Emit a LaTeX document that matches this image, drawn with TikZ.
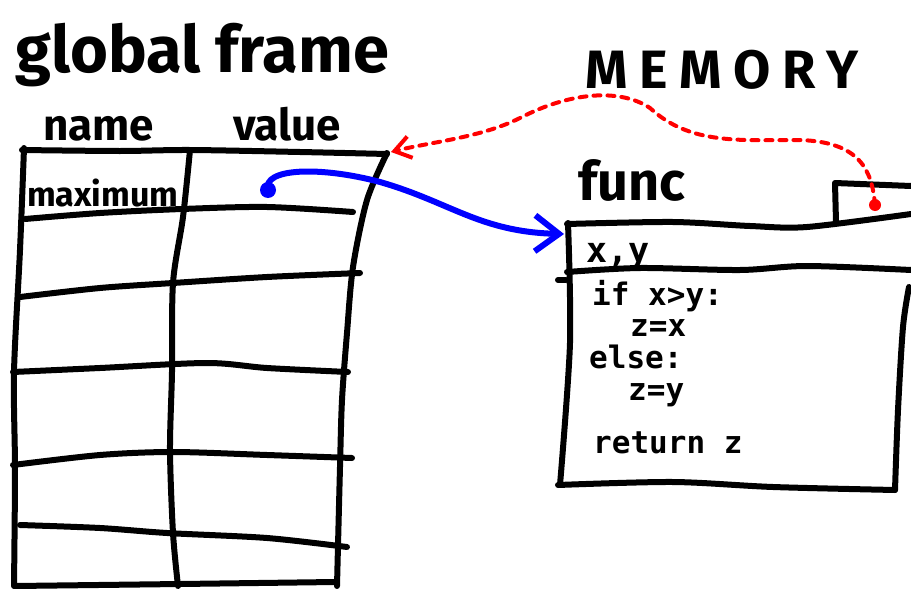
\documentclass[tikz,border=0pt]{standalone}
\usepackage{fontspec}
\setmainfont{Fira Sans}
\newfontfamily\memfont[LetterSpace=22]{Fira Sans}
\setmonofont{DejaVu Sans Mono}
\usetikzlibrary{arrows.meta}
\begin{document}
\begin{tikzpicture}[x=1pt, y=-1pt,
  pen/.style={line width=6pt, line cap=round, line join=round},
  hand/.style={inner sep=0pt, anchor=base west},
  code/.style={hand, font=\fontsize{31}{31}\selectfont\ttfamily\bfseries}]
  \useasboundingbox (0,0) rectangle (911,589);
  % titles
  \node[hand, font=\fontsize{65}{65}\selectfont\bfseries] (gframe) at (15,72) {global frame};
  \node[hand, font=\fontsize{44}{44}\selectfont\bfseries] (namecol) at (43,140) {name};
  \node[hand, font=\fontsize{44}{44}\selectfont\bfseries] (valcol) at (233,140) {value};
  \node[hand, font=\fontsize{54}{54}\selectfont\memfont\bfseries] (memory) at (585,88) {MEMORY};
  \node[hand, font=\fontsize{54}{54}\selectfont\bfseries] (func) at (578,200) {func};
  % global frame table
  \draw[pen] plot[smooth] coordinates {(22,150) (120,151) (190,150) (300,152) (387,154)};
  \draw[pen] plot[smooth] coordinates {(24,148) (20,250) (14,372) (15,470) (14,586)};
  \draw[pen] plot[smooth] coordinates {(190,150) (183,217) (173,283) (172,372) (170,450) (173,533) (178,586)};
  \draw[pen] plot[smooth] coordinates {(387,153) (367,200) (353,267) (347,333) (342,400) (340,467) (337,586)};
  \draw[pen] plot[smooth] coordinates {(25,219) (100,213) (182,209) (267,207) (353,212)};
  \draw[pen] plot[smooth] coordinates {(20,297) (100,288) (173,283) (267,277) (360,273)};
  \draw[pen] plot[smooth] coordinates {(13,372) (100,368) (207,363) (267,368) (348,372)};
  \draw[pen] plot[smooth] coordinates {(13,465) (100,455) (173,452) (267,455) (352,458)};
  \draw[pen] plot[smooth] coordinates {(20,525) (100,528) (167,533) (267,538) (347,547)};
  \draw[pen] plot[smooth] coordinates {(15,586) (180,584) (335,582)};
  \node[hand, font=\fontsize{34}{34}\selectfont\bfseries] (maxname) at (27,206) {maximum};
  % function object
  \draw[pen] plot[smooth] coordinates {(567,224) (673,222) (750,226) (807,227) (911,214)};
  \draw[pen] (836,222) -- (835,183) -- (911,186);
  \draw[pen] plot[smooth] coordinates {(567,272) (640,268) (740,270) (807,266) (911,270)};
  \draw[pen] plot[smooth] coordinates {(568,223) (570,343) (560,485)};
  \draw[pen] (558,280) -- (566,280);
  \draw[pen] plot[smooth] coordinates {(558,485) (673,482) (773,487) (895,490)};
  \draw[pen] plot[smooth] coordinates {(909,287) (903,327) (898,410) (895,490)};
  \node[code, font=\fontsize{35}{35}\selectfont\ttfamily\bfseries] (params) at (586,262) {x,y};
  \node[code] (cond) at (592,305) {if x>y:};
  \node[code] (then) at (630,336) {z=x};
  \node[code] (other) at (589,368) {else:};
  \node[code] (alt) at (628,400) {z=y};
  \node[code] (ret) at (593,453) {return z};
  % references
  \coordinate (maxval) at (268,190);
  \coordinate (funcin) at (564,234);
  \fill[blue] (maxval) circle (8);
  \draw[blue, pen, -{Straight Barb[length=24pt, width=36pt]}]
    (maxval) .. controls (262,168) and (320,166) .. (380,182)
    .. controls (450,202) and (480,232) .. (funcin);
  \coordinate (tabdot) at (875,205);
  \coordinate (valtip) at (391,152);
  \fill[red] (tabdot) circle (6);
  \draw[red, line width=4pt, line cap=round, dash pattern=on 7pt off 7pt,
    -{Straight Barb[length=16pt, width=22pt]}]
    (tabdot) .. controls (872,170) and (860,142) .. (800,140)
    .. controls (740,140) and (690,145) .. (650,108)
    .. controls (620,88) and (570,92) .. (520,118)
    .. controls (480,138) and (430,142) .. (valtip);
\end{tikzpicture}
\end{document}
